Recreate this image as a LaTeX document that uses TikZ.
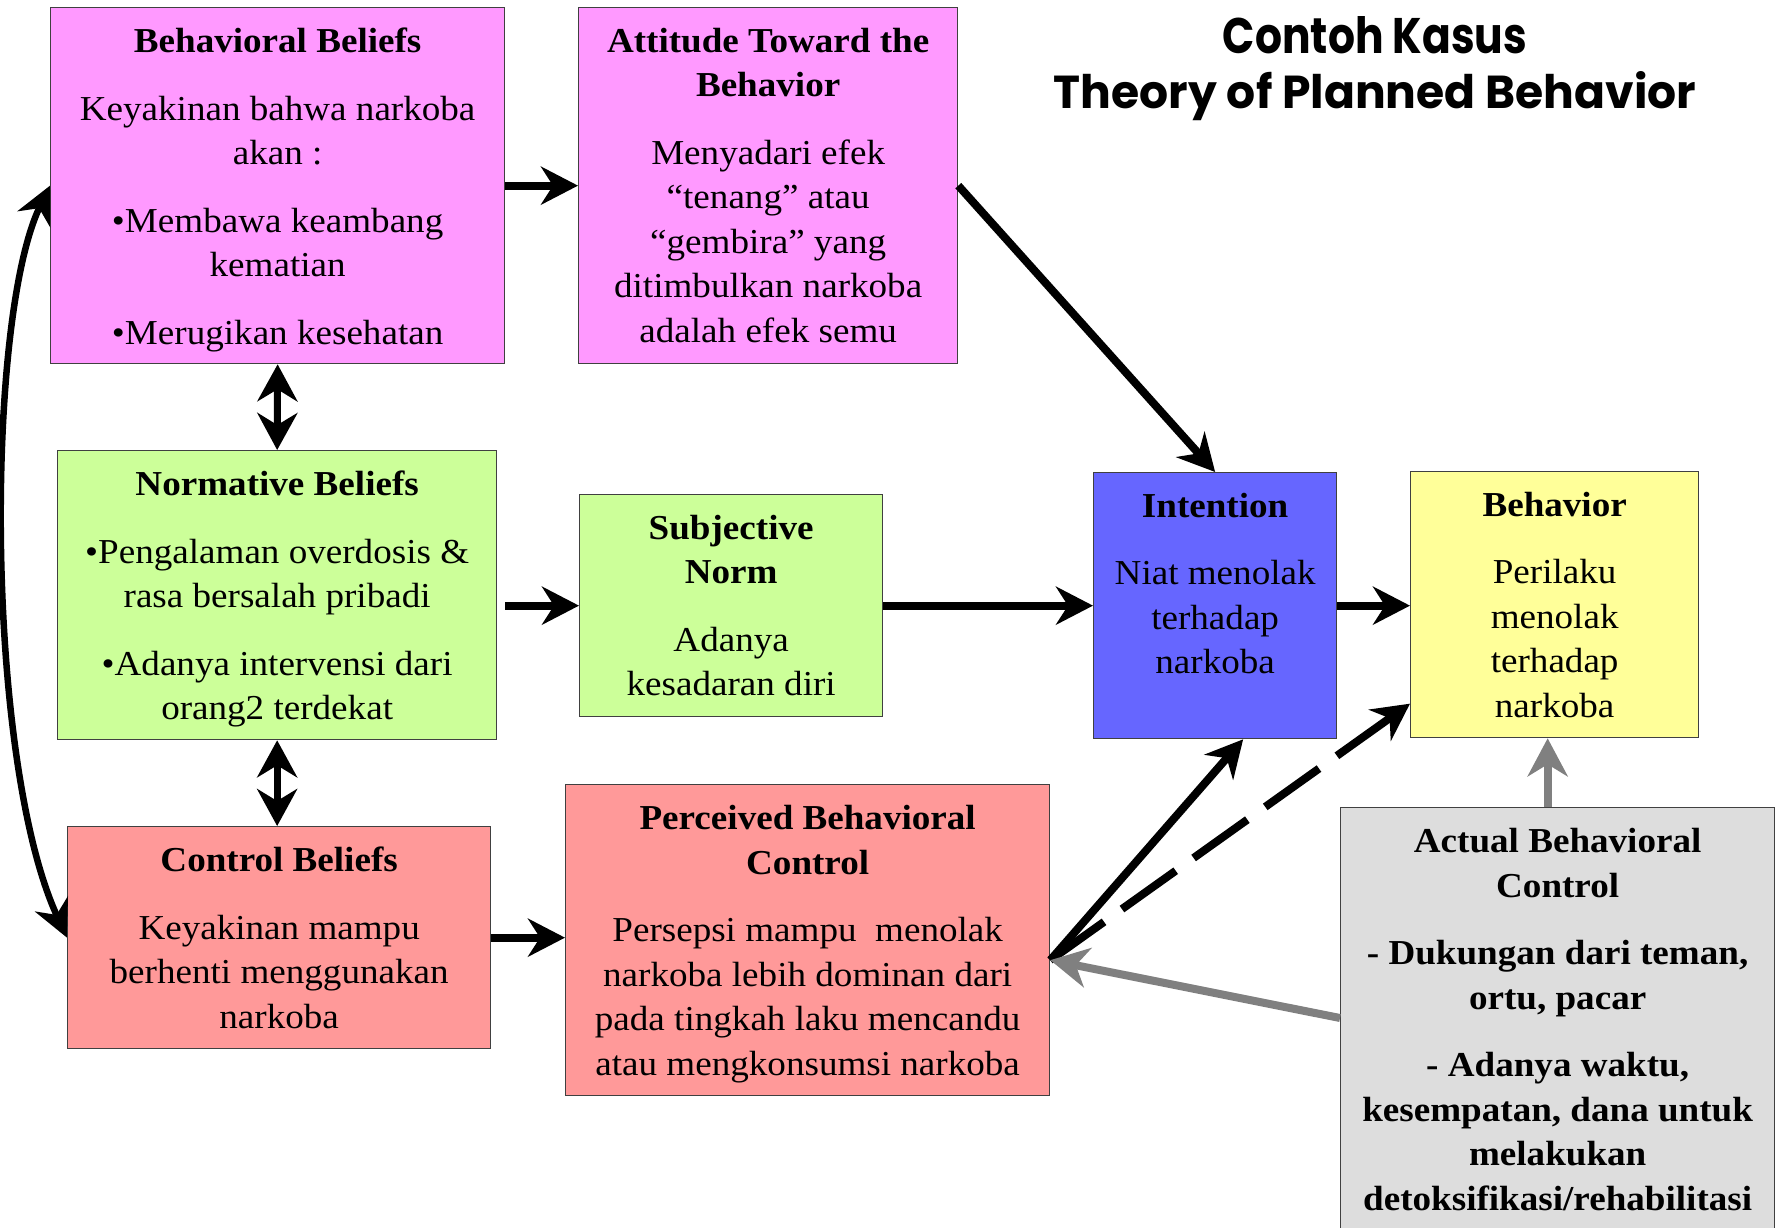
\documentclass[tikz,border=0pt]{standalone}
\usepackage{fontspec}
\usepackage{graphicx}
\setmainfont{Liberation Serif}[FakeStretch=1.06]
\newfontfamily\titlefont{Poppins}
\usetikzlibrary{arrows.meta}

\definecolor{cpink}{HTML}{FF99FF}
\definecolor{cgreen}{HTML}{CCFF99}
\definecolor{cblue}{HTML}{6666FF}
\definecolor{cyellow}{HTML}{FFFF99}
\definecolor{cred}{HTML}{FF9999}
\definecolor{cgrey}{HTML}{DDDDDD}
\definecolor{carrowgrey}{HTML}{808080}

\newcommand{\bodyfont}{\fontsize{35}{44.5}\selectfont}
\newcommand{\pgap}{\\[23pt]}

\tikzset{
  box/.style={draw=black!75, line width=1.3pt, anchor=north west, inner sep=0pt},
  txt/.style={anchor=north, align=center, inner sep=0pt, font=\bodyfont},
  arr/.style={line width=8pt, -{Stealth[length=37pt,width=38pt,inset=12pt]}},
  dbl/.style={line width=7pt, {Stealth[length=37pt,width=40pt,inset=12pt]}-{Stealth[length=37pt,width=40pt,inset=12pt]}},
  curvearr/.style={line width=6.5pt, {Stealth[length=37pt,width=36pt,inset=12pt]}-{Stealth[length=37pt,width=36pt,inset=12pt]}},
  garr/.style={line width=8pt, draw=carrowgrey, -{Stealth[length=38pt,width=40pt,inset=12pt]}},
  dashedarr/.style={arr, dash pattern=on 66pt off 22pt}
}

\begin{document}
\begin{tikzpicture}[x=1pt, y=-1pt]
\useasboundingbox (0,0) rectangle (1783,1227);

% title
\node[anchor=base] (title1) at (1375,53) {\resizebox{304pt}{37pt}{\titlefont\bfseries Contoh Kasus}};
\node[anchor=base] (title2) at (1375,108) {\resizebox{642pt}{37pt}{\titlefont\bfseries Theory of Planned Behavior}};

% boxes
\node[box, fill=cpink,   minimum width=454pt, minimum height=356pt] (bb)  at (50,7) {};
\node[box, fill=cpink,   minimum width=379pt, minimum height=356pt] (att) at (578,7) {};
\node[box, fill=cgreen,  minimum width=439pt, minimum height=289pt] (nb)  at (57,450) {};
\node[box, fill=cgreen,  minimum width=303pt, minimum height=222pt] (sn)  at (579,494) {};
\node[box, fill=cblue,   minimum width=243pt, minimum height=266pt] (int) at (1093,472) {};
\node[box, fill=cyellow, minimum width=288pt, minimum height=266pt] (beh) at (1410,471) {};
\node[box, fill=cred,    minimum width=423pt, minimum height=222pt] (cb)  at (67,826) {};
\node[box, fill=cred,    minimum width=484pt, minimum height=311pt] (pbc) at (565,784) {};
\node[box, fill=cgrey,   minimum width=434pt, minimum height=460pt] (act) at (1340,807) {};

% box texts
\node[txt] (bbt) at ([yshift=-21pt]bb.north) {\textbf{Behavioral Beliefs}\pgap
  Keyakinan bahwa narkoba\\ akan :\pgap
  •Membawa keambang\\ kematian\pgap
  •Merugikan kesehatan};
\node[txt] (attt) at ([yshift=-21pt]att.north) {\textbf{Attitude Toward the}\\ \textbf{Behavior}\pgap
  Menyadari efek\\ “tenang” atau\\ “gembira” yang\\ ditimbulkan narkoba\\ adalah efek semu};
\node[txt] (nbt) at ([yshift=-21pt]nb.north) {\textbf{Normative Beliefs}\pgap
  •Pengalaman overdosis \&\\ rasa bersalah pribadi\pgap
  •Adanya intervensi dari\\ orang2 terdekat};
\node[txt] (snt) at ([yshift=-21pt]sn.north) {\textbf{Subjective}\\ \textbf{Norm}\pgap
  Adanya\\ kesadaran diri};
\node[txt] (intt) at ([yshift=-21pt]int.north) {\textbf{Intention}\pgap
  Niat menolak\\ terhadap\\ narkoba};
\node[txt] (beht) at ([yshift=-21pt]beh.north) {\textbf{Behavior}\pgap
  Perilaku\\ menolak\\ terhadap\\ narkoba};
\node[txt] (cbt) at ([yshift=-21pt]cb.north) {\textbf{Control Beliefs}\pgap
  Keyakinan mampu\\ berhenti menggunakan\\ narkoba};
\node[txt] (pbct) at ([yshift=-21pt]pbc.north) {\textbf{Perceived Behavioral}\\ \textbf{Control}\pgap
  Persepsi mampu\ \ menolak\\ narkoba lebih dominan dari\\ pada tingkah laku mencandu\\ atau mengkonsumsi narkoba};
\node[txt, font=\bodyfont\bfseries] (actt) at ([yshift=-21pt]act.north) {Actual Behavioral\\ Control\pgap
  - Dukungan dari teman,\\ ortu, pacar\pgap
  - Adanya waktu,\\ kesempatan, dana untuk\\ melakukan\\ detoksifikasi/rehabilitasi};

% helper points
\coordinate (nbo) at ([xshift=8pt]nb.east);
\coordinate (pj)  at ([yshift=-20pt]pbc.east);
\coordinate (ag)  at ([yshift=-211pt]act.north west);
\coordinate (bs)  at ([xshift=-7pt]beh.south);

% connectors
\draw[arr] (bb.east) -- (att.west);
\draw[dbl] (bb.south) -- (nb.north);
\draw[arr] (nbo |- sn.west) -- (sn.west);
\draw[dbl] (nb.south) -- (nb.south |- cb.north);
\draw[arr] (sn.east) -- (int.west);
\draw[arr] (int.east) -- (int.east -| beh.west);
\draw[arr] (cb.east) -- (cb.east -| pbc.west);
\draw[arr] (att.east) -- (int.north);
\draw[arr] (pj) -- ([xshift=28pt]int.south);
\draw[dashedarr] (pj) -- ([yshift=-99pt]beh.west);
\draw[garr] (ag) -- (pj);
\draw[garr] (act.north -| bs) -- (bs);
\draw[curvearr] (bb.west) .. controls (-15,320) and (-15,760) .. (cb.west);
\end{tikzpicture}
\end{document}
